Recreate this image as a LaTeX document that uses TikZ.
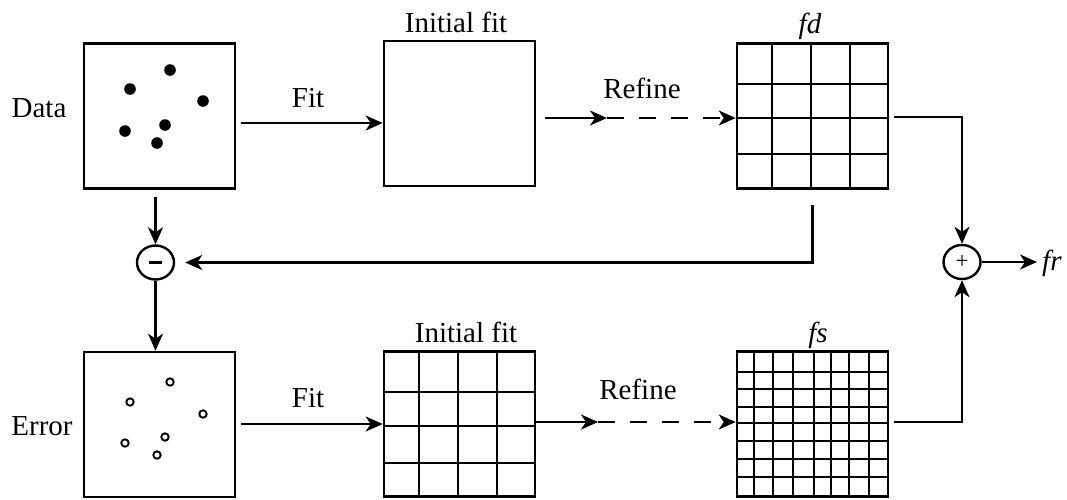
\documentclass[tikz,border=0pt]{standalone}
\usepackage{fontspec}
\setmainfont{Liberation Serif}
\usetikzlibrary{arrows.meta,shapes.geometric,calc}
\begin{document}
\begin{tikzpicture}[x=1pt,y=-1pt, line width=2.4pt,
 box/.style={draw, line width=2.6pt, minimum width=151pt, minimum height=145pt, inner sep=0pt},
 lbl/.style={font=\fontsize{29}{34}\selectfont, inner sep=0pt, anchor=base},
 sumnode/.style={draw, ellipse, minimum width=37pt, minimum height=34pt, inner sep=0pt, line width=2.4pt},
 arr/.style={-{Stealth[length=17pt,width=15pt,inset=5pt]}},
 dsh/.style={dash pattern=on 17pt off 15pt},
 grid/.style={line width=2.4pt},
 ]
\useasboundingbox (0,0) rectangle (1067,499);

% boxes
\node[box] (data)  at (159.5,116) {};
\node[box] (init1) at (459.5,113.5) {};
\node[box] (fd)    at (812.5,116) {};
\node[box] (error) at (159.5,424.5) {};
\node[box] (init2) at (459.5,424) {};
\node[box] (fs)    at (812.5,424) {};

\node[sumnode] (minus) at (155.5,262.5) {};
\draw[line width=3.5pt] ([xshift=-6.5pt]minus.center) -- ([xshift=6.5pt]minus.center);
\node[sumnode, font=\fontsize{23}{26}\selectfont] (plus) at (962,262) {+};

% labels
\node[lbl] (ldata) at (39,117) {Data};
\node[lbl] (lerror) at (42,435) {Error};
\node[lbl] (li1) at (456,32) {Initial fit};
\node[lbl] (li2) at (466,342) {Initial fit};
\node[lbl] (lfit1) at (308,107) {Fit};
\node[lbl] (lfit2) at (308,407) {Fit};
\node[lbl] (lref1) at (642,98) {Refine};
\node[lbl] (lref2) at (638,399) {Refine};
\node[lbl] (lfd) at (810,33) {\itshape fd};
\node[lbl] (lfs) at (818,342) {\itshape fs};
\node[lbl, anchor=base west] (lfr) at (1041,270) {\itshape fr};

% data points
\foreach \p in {(170,70),(130,89),(203,101),(125,131),(165,125),(157,143)}
  \fill \p circle (5.8);
\foreach \p in {(170,382),(130,402),(203,414),(125,443),(165,437),(157,455)}
  \draw[line width=1.9pt] \p circle (3.7);

% grids
\foreach \x in {772,811,850} \draw[grid] (\x,43) -- (\x,189);
\foreach \y in {84,118,154} \draw[grid] (737,\y) -- (888,\y);
\foreach \x in {419,458,497} \draw[grid] (\x,352) -- (\x,496);
\foreach \y in {392,426,463} \draw[grid] (384,\y) -- (535,\y);
\foreach \x in {754,773,793,814,831,849,869} \draw[grid] (\x,352) -- (\x,496);
\foreach \y in {372,389,407,423,441,459,477} \draw[grid] (737,\y) -- (888,\y);

% mid points of refine arrows
\coordinate (m1) at (607,118);
\coordinate (m2) at (598,422);

% connectors
\draw[arr] ([xshift=5pt]data.east |- 0,123) -- (init1.west |- 0,123);
\draw[arr] ([xshift=9pt]init1.east |- m1) -- (m1);
\draw[arr, dsh] (m1) -- (fd.west |- m1);
\draw[arr] ([xshift=5pt]fd.east |- 0,117) -| (plus.north);
\draw[arr, shorten >=10pt] ([yshift=-15pt]fd.south) |- (minus.east);
\draw[arr] ($(minus.north |- data.south)+(0,7)$) -- (minus.north);
\draw[arr] (minus.south) -- (minus.south |- error.north);

\draw[arr] ([xshift=5pt]error.east |- 0,424) -- (init2.west |- 0,424);
\draw[arr] (init2.east |- m2) -- (m2);
\draw[arr, dsh] (m2) -- (fs.west |- m2);
\draw[arr] ([xshift=5pt]fs.east |- 0,422) -| (plus.south);
\draw[arr] (plus.east) -- ([xshift=-4pt]lfr.west |- plus.east);
\end{tikzpicture}
\end{document}
